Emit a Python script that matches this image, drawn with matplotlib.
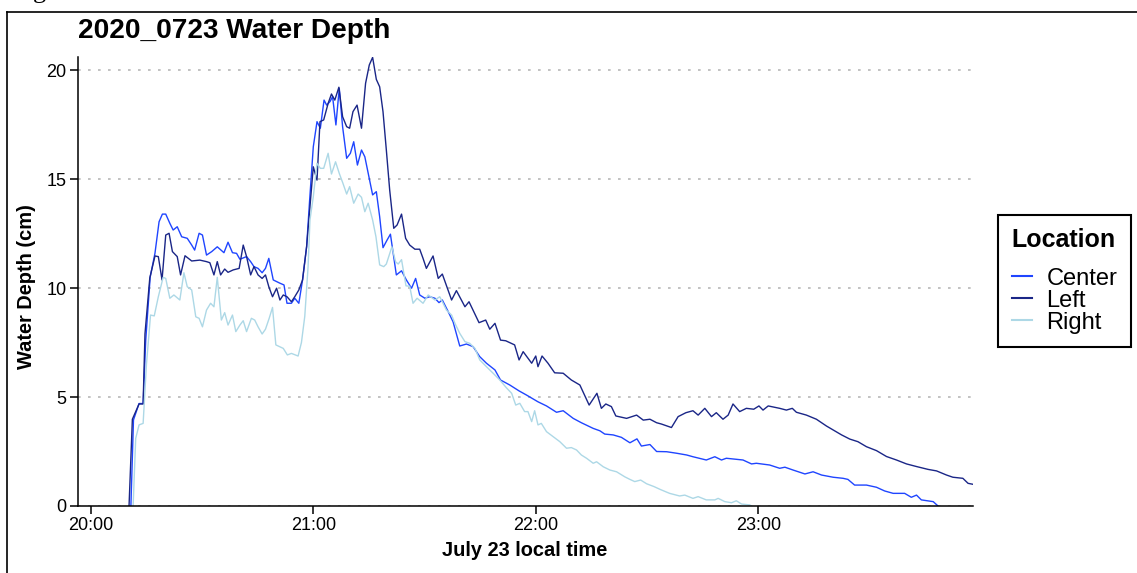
import numpy as np
import pandas as pd
import matplotlib
matplotlib.use("Agg")
import matplotlib.pyplot as plt
from matplotlib.lines import Line2D

plt.rcParams['font.family'] = ['Liberation Sans', 'DejaVu Sans']

# ---------------- data (minutes after 20:00 on July 23, depth in cm) ----------------
center_t = [10.8, 11.5, 13.0, 14.1, 14.8, 16.0, 17.3, 18.4, 19.3, 20.2, 21.3, 22.2, 23.3, 24.5, 26.0,
            27.2, 28.0, 29.2, 30.1, 31.2, 32.6, 34.1, 35.9, 37.0, 38.2, 39.3, 40.2, 42.0, 43.1, 44.0,
            45.1, 46.2, 47.1, 48.0, 49.2, 51.0, 52.1, 52.9, 54.1, 55.0, 56.1, 57.1, 58.2, 59.0, 60.0,
            61.0, 61.9, 62.9, 63.6, 64.5, 65.2, 66.1, 67.0, 67.9, 69.0, 70.0, 70.9, 71.9, 73.0, 73.9,
            74.8, 76.0, 77.0, 77.9, 78.8, 79.9, 80.8, 82.4, 83.8, 85.1, 86.5, 87.6, 88.7, 90.1, 91.4,
            92.8, 93.9, 94.8, 96.4, 97.7, 99.5, 101.3, 103.1, 104.9, 106.7, 109.0, 110.5, 113.0, 115.5,
            117.5, 120.6, 122.9, 125.6, 127.4, 130.1, 132.3, 135.5, 137.3, 138.6, 140.9, 143.1, 145.4,
            147.3, 148.5, 150.8, 152.6, 155.3, 158.0, 160.7, 162.4, 166.0, 168.3, 170.1, 171.4, 175.9,
            178.2, 179.5, 183.1, 185.8, 187.2, 189.4, 192.6, 194.8, 197.1, 200.2, 202.9, 204.2, 206.0,
            209.2, 211.9, 214.1, 216.4, 219.5, 221.3, 222.7, 224.0, 227.2, 228.5]
center_v = [0.0, 3.95, 4.7, 4.7, 7.6, 10.5, 11.6, 13.04, 13.39, 13.39, 12.97, 12.66, 12.81, 12.35, 12.28,
            11.97, 11.74, 12.51, 12.43, 11.51, 11.67, 11.89, 11.62, 12.10, 11.62, 11.59, 11.32, 11.44, 11.21, 10.98,
            10.90, 10.70, 10.90, 11.36, 10.37, 10.22, 10.14, 9.30, 9.30, 9.53, 9.30, 10.37, 11.9, 14.0, 16.48,
            17.63, 17.33, 18.62, 18.39, 18.55, 18.78, 17.48, 19.16, 17.40, 15.95, 16.18, 16.71, 15.64, 16.33, 16.02,
            15.26, 14.27, 14.42, 13.27, 11.85, 12.2, 12.47, 10.60, 10.79, 10.37, 9.99, 10.44, 9.68, 9.53, 9.60,
            9.53, 9.33, 9.45, 8.91, 8.45, 7.34, 7.43, 7.31, 6.85, 6.55, 6.24, 5.78, 5.55, 5.28,
            5.09, 4.78, 4.59, 4.30, 4.37, 4.02, 3.82, 3.56, 3.45, 3.30, 3.26, 3.15, 2.90,
            3.08, 2.75, 2.82, 2.50, 2.49, 2.42, 2.34, 2.26, 2.11, 2.26, 2.11, 2.19, 2.11,
            1.93, 1.96, 1.88, 1.73, 1.78, 1.65, 1.47, 1.57, 1.42, 1.32, 1.27, 1.22, 0.96,
            0.96, 0.86, 0.69, 0.58, 0.58, 0.40, 0.50, 0.28, 0.20, 0.0]

left_t = [10.3, 11.2, 13.0, 14.1, 14.6, 15.9, 17.3, 18.2, 19.2, 20.2, 21.1, 22.0, 23.3, 24.2, 25.4,
          27.2, 29.4, 31.2, 32.1, 33.2, 34.1, 35.0, 36.1, 37.0, 38.4, 40.0, 41.1, 42.0, 43.1, 44.0,
          45.1, 46.2, 47.1, 48.0, 49.0, 50.1, 51.0, 51.9, 52.9, 54.1, 55.0, 56.1, 57.1, 58.2, 60.0,
          61.0, 61.8, 62.8, 64.0, 64.9, 65.8, 66.9, 67.9, 69.0, 69.8, 70.7, 71.8, 73.0, 74.1, 75.1,
          76.0, 77.0, 77.9, 78.8, 79.7, 80.6, 81.7, 82.6, 83.8, 84.9, 86.0, 87.4, 88.7, 89.6, 90.5,
          92.3, 93.7, 94.8, 97.3, 98.6, 100.9, 102.0, 104.7, 106.5, 107.6, 109.0, 110.5, 111.9, 114.3,
          115.5, 116.6, 118.9, 120.0, 120.6, 121.7, 123.3, 125.1, 127.4, 129.6, 131.9, 134.4, 136.5,
          137.7, 138.9, 140.4, 141.6, 144.5, 147.2, 149.0, 150.8, 152.6, 153.9, 156.6, 158.4, 160.5,
          162.4, 163.8, 165.6, 167.4, 168.7, 170.5, 171.9, 173.2, 175.0, 176.8, 178.8, 180.2, 181.3,
          182.7, 185.8, 187.6, 189.2, 190.3, 193.0, 195.7, 198.4, 200.2, 202.5, 204.7, 206.9, 209.2,
          211.9, 214.6, 217.3, 220.0, 222.7, 225.8, 228.1, 230.8, 232.5, 235.2, 236.6, 237.8]
left_v = [0.0, 3.98, 4.68, 4.68, 7.9, 10.46, 11.47, 11.44, 10.37, 12.43, 12.51, 11.67, 11.44, 10.60, 11.48,
          11.24, 11.28, 11.21, 11.16, 10.60, 11.21, 10.60, 10.87, 10.72, 10.83, 10.90, 11.97, 11.44, 10.60, 10.98,
          10.60, 10.44, 10.60, 10.06, 9.60, 9.99, 9.45, 9.68, 9.60, 9.37, 9.60, 9.91, 10.37, 11.9, 15.56,
          14.95, 17.63, 17.71, 18.47, 18.90, 18.62, 19.21, 17.86, 17.40, 17.33, 18.09, 18.39, 17.33, 19.39, 20.23,
          20.58, 19.57, 19.23, 18.09, 16.33, 14.50, 12.74, 12.89, 13.39, 12.28, 11.97, 11.78, 11.78, 11.36, 10.90,
          11.47, 10.44, 10.64, 9.45, 9.88, 9.14, 9.37, 8.41, 8.53, 8.11, 8.38, 7.61, 7.58, 7.39,
          6.70, 7.08, 6.55, 6.88, 6.39, 6.88, 6.55, 6.11, 6.09, 5.78, 5.55, 4.63, 5.17,
          4.48, 4.68, 4.56, 4.13, 4.02, 4.17, 3.94, 3.98, 3.82, 3.76, 3.60, 4.10, 4.28,
          4.37, 4.17, 4.48, 4.10, 4.28, 3.98, 4.17, 4.68, 4.33, 4.48, 4.44, 4.59, 4.40,
          4.59, 4.48, 4.40, 4.48, 4.30, 4.17, 3.98, 3.67, 3.49, 3.26, 3.07, 2.95, 2.72,
          2.54, 2.27, 2.11, 1.93, 1.81, 1.68, 1.61, 1.42, 1.32, 1.27, 1.04, 1.00]

right_t = [11.4, 12.1, 13.0, 14.1, 15.0, 16.1, 17.1, 18.2, 19.5, 20.2, 21.3, 22.4, 24.0, 25.1, 26.0,
           27.2, 28.3, 29.2, 30.1, 31.2, 32.3, 33.2, 34.1, 35.2, 36.1, 37.0, 38.2, 39.1, 40.2, 41.1,
           42.0, 43.3, 44.2, 45.1, 46.2, 47.1, 48.1, 49.0, 49.9, 51.9, 53.0, 54.1, 55.9, 56.8, 57.7,
           58.6, 59.1, 60.0, 61.0, 61.9, 62.8, 64.0, 64.9, 66.0, 67.0, 68.0, 69.0, 69.8, 70.9, 72.1,
           73.0, 73.9, 74.8, 76.0, 76.9, 77.9, 79.0, 79.7, 81.2, 82.2, 82.9, 83.8, 85.0, 86.0, 86.9,
           88.0, 89.6, 91.0, 92.8, 94.1, 94.8, 95.9, 97.3, 98.2, 99.5, 100.9, 102.2, 103.6, 104.9,
           106.7, 108.5, 110.3, 112.1, 113.5, 114.6, 115.7, 117.0, 117.9, 118.9, 119.7, 120.6, 121.5,
           122.9, 124.7, 126.5, 128.3, 129.6, 131.0, 132.3, 133.7, 135.5, 136.4, 138.2, 140.0, 141.8,
           144.0, 145.4, 146.7, 148.3, 149.9, 151.9, 153.7, 156.1, 158.8, 160.2, 162.4, 163.8, 166.0,
           168.3, 169.2, 171.0, 172.8, 174.1, 175.5, 177.7, 178.2]
right_v = [0.0, 3.10, 3.72, 3.79, 6.5, 8.76, 8.72, 9.60, 10.49, 10.44, 9.53, 9.68, 9.45, 10.70, 10.06,
           9.91, 8.68, 8.61, 8.22, 8.99, 9.30, 9.14, 10.49, 8.53, 8.87, 8.30, 8.76, 8.00, 8.30, 8.50,
           8.00, 8.61, 8.53, 8.22, 7.89, 8.11, 8.61, 9.11, 7.39, 7.23, 6.93, 7.00, 6.88, 7.5, 8.7,
           11.0, 13.12, 14.19, 15.72, 15.49, 15.49, 16.18, 15.23, 15.79, 15.26, 14.80, 14.31, 14.65, 13.89, 14.31,
           14.16, 13.50, 13.89, 13.12, 12.35, 11.06, 10.98, 11.10, 11.89, 11.2, 11.1, 11.30, 10.1, 10.08, 9.30,
           9.53, 9.30, 9.68, 9.45, 9.60, 9.37, 8.99, 8.76, 8.38, 7.92, 7.54, 7.46, 7.23, 6.70,
           6.39, 6.09, 5.78, 5.42, 5.17, 4.63, 4.71, 4.33, 4.33, 3.87, 4.37, 3.72, 3.79,
           3.41, 3.18, 2.95, 2.65, 2.68, 2.57, 2.34, 2.19, 1.96, 2.03, 1.80, 1.65, 1.57,
           1.34, 1.22, 1.12, 1.19, 1.02, 0.89, 0.75, 0.58, 0.46, 0.50, 0.35, 0.43, 0.28,
           0.28, 0.35, 0.20, 0.15, 0.24, 0.09, 0.05, 0.0]

locations = ["Center", "Left", "Right"]
colors = ["#1f45ff", "#1a2687", "#add8e6"]
tick_hours = ["20:00", "21:00", "22:00", "23:00"]
x_range_min = [-3.6, 237.8]
y_range = [0, 20.62]

title = "2020_0723 Water Depth"
xlab = "July 23 local time"
ylab = "Water Depth (cm)"

base = pd.Timestamp("2020-07-23 20:00")


def to_time(mins):
    return base + pd.to_timedelta(np.asarray(mins, dtype=float), unit="m")


W, H = 1137, 573
fig = plt.figure(figsize=(W / 100, H / 100), dpi=100)
ax = fig.add_axes([77.5 / W, 1 - 506 / H, (972.5 - 77.5) / W, (506 - 56.5) / H])

series = {"Center": (center_t, center_v), "Left": (left_t, left_v), "Right": (right_t, right_v)}
for name, col in zip(locations, colors):
    t, v = series[name]
    ax.plot(to_time(t), v, color=col, lw=1.0, label=name, zorder=3)

ax.set_xlim(to_time(x_range_min[0]), to_time(x_range_min[1]))
ax.set_ylim(*y_range)
ticks = [base + pd.Timedelta(hours=int(h.split(":")[0]) - 20) for h in tick_hours]
ax.set_xticks(ticks)
ax.set_xticklabels(tick_hours)
ax.set_yticks([0, 5, 10, 15, 20])

ax.grid(axis="y", color="#b8b8b8", lw=1.2, linestyle=(0, (1.6, 4.4)), zorder=0)
ax.grid(axis="x", visible=False)
for s in ["top", "right"]:
    ax.spines[s].set_visible(False)
for s in ["left", "bottom"]:
    ax.spines[s].set_linewidth(1.1)
    ax.spines[s].set_zorder(5)
ax.tick_params(axis="both", length=6, width=1.1, color="black", labelsize=13, pad=2,
               labelcolor="black")

ax.set_ylabel(ylab, fontsize=14.4, fontweight="bold", va="center")
ax.yaxis.set_label_coords((27 - 77.5) / (972.5 - 77.5), 0.5 - 5 / 449.5)
ax.set_xlabel(xlab, fontsize=14.4, fontweight="bold", va="center")
ax.xaxis.set_label_coords(0.5, (506 - 550) / (506 - 56.5))

fig.text(77.5 / W, 1 - 38.5 / H, title, fontsize=20.2, fontweight="bold", ha="left", va="baseline")

leg = ax.legend(title="Location", loc="center left",
                bbox_to_anchor=(998 / W, 1 - 281 / H), bbox_transform=fig.transFigure,
                borderaxespad=0,
                fontsize=17, title_fontproperties={"weight": "bold", "size": 18},
                frameon=True, fancybox=False, edgecolor="black", framealpha=1,
                handlelength=0.85, handletextpad=0.62, labelspacing=0.0, borderpad=0.58,
                alignment="left")
leg._legend_box.sep = 11
leg.get_frame().set_linewidth(1.5)
for line in leg.get_lines():
    line.set_linewidth(1.5)

# outer frame of the original page
fig.add_artist(Line2D([7 / W, 1], [1 - 12 / H, 1 - 12 / H], color="black", lw=1.2,
                      transform=fig.transFigure))
fig.add_artist(Line2D([7 / W, 7 / W], [0, 1 - 12 / H], color="black", lw=1.2,
                      transform=fig.transFigure))
fig.text(33 / W, 1.0 + 2.3 / H, "g", fontsize=19, family="Liberation Serif", va="baseline")

fig.savefig("out.png", dpi=100)
